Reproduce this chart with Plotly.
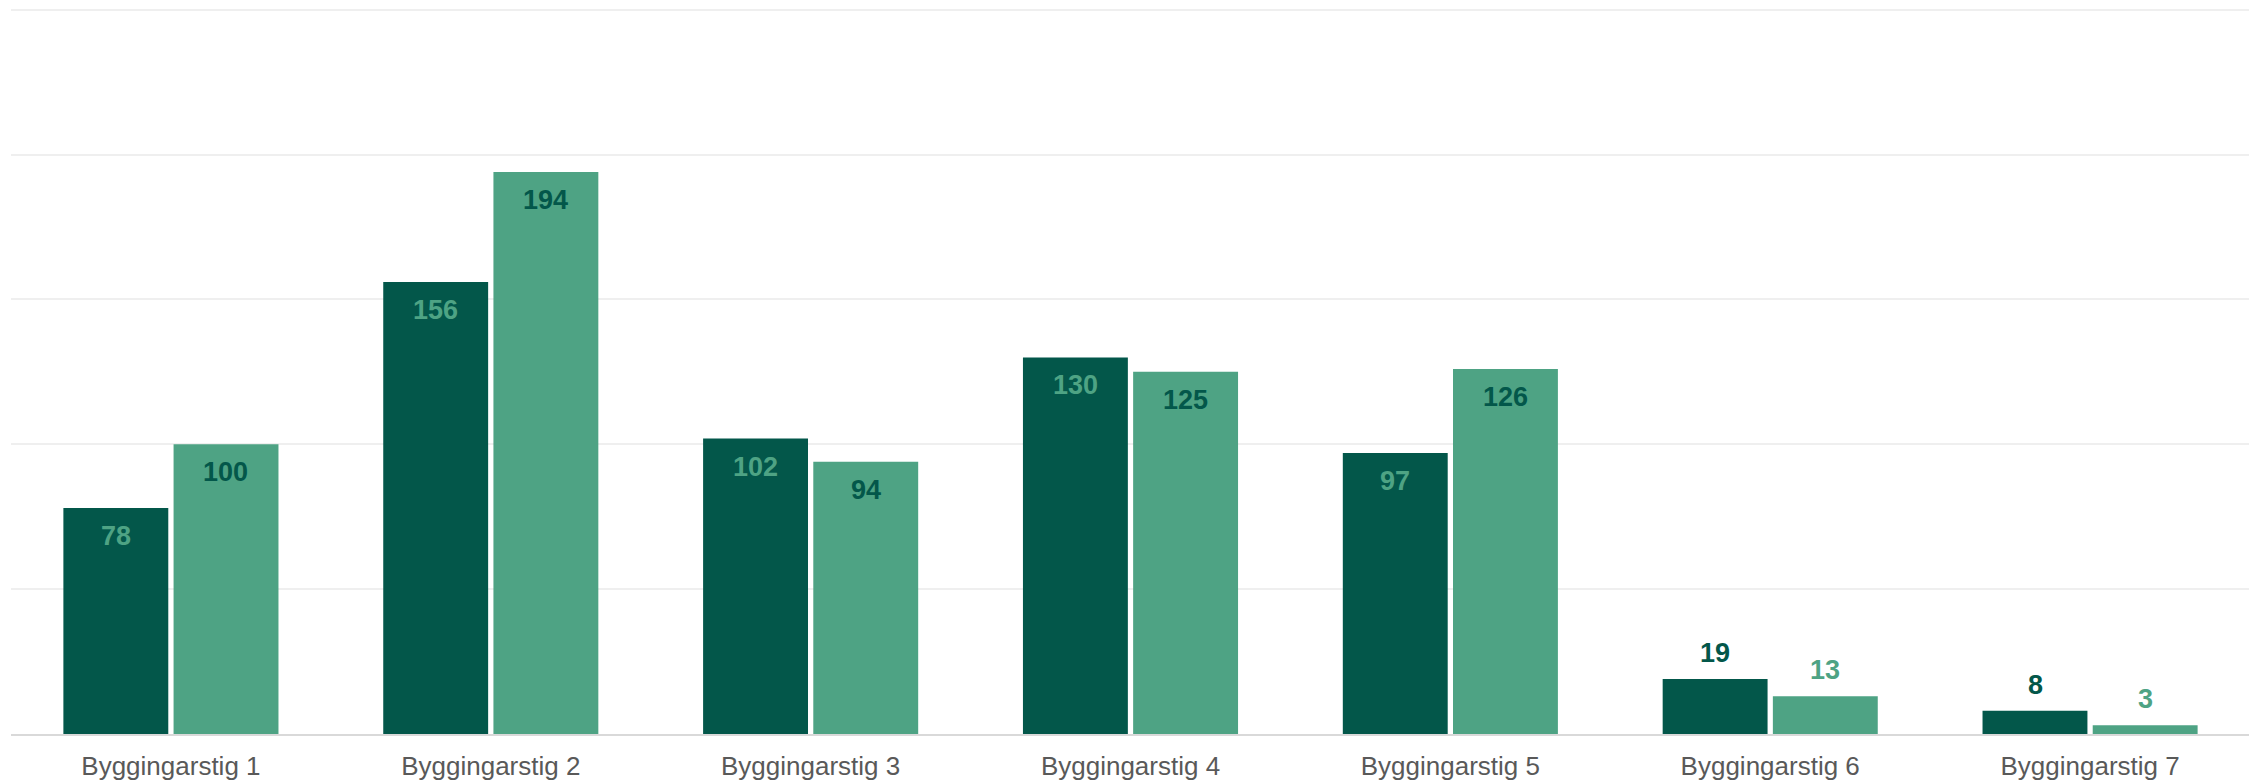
import plotly.graph_objects as go

categories = ["Byggingarstig 1", "Byggingarstig 2", "Byggingarstig 3", "Byggingarstig 4",
              "Byggingarstig 5", "Byggingarstig 6", "Byggingarstig 7"]
series_a = [78, 156, 102, 130, 97, 19, 8]
series_b = [100, 194, 94, 125, 126, 13, 3]

DARK = "#03574A"
LIGHT = "#4EA384"
FONT = "Liberation Sans, Arial, sans-serif"
LABEL_SIZE = 27
INSIDE_MIN = 40  # bars below this get their label above the bar

fig = go.Figure()
fig.add_trace(go.Bar(x=categories, y=series_a, marker=dict(color=DARK, line=dict(width=0)),
                     name="A", hoverinfo="x+y"))
fig.add_trace(go.Bar(x=categories, y=series_b, marker=dict(color=LIGHT, line=dict(width=0)),
                     name="B", hoverinfo="x+y"))

annotations = []
for vals, shift, own, other in [(series_a, -55, DARK, LIGHT), (series_b, 55, LIGHT, DARK)]:
    for cat, v in zip(categories, vals):
        inside = v >= INSIDE_MIN
        annotations.append(dict(
            x=cat, y=v, xref="x", yref="y", text=str(v), showarrow=False,
            xshift=shift,
            yanchor="top" if inside else "bottom",
            yshift=-11 if inside else 9,
            font=dict(family=FONT, size=LABEL_SIZE, color=other if inside else own, weight="bold"),
        ))

# the page body adds an 8px margin, so the figure is sized to fit the window
fig.update_layout(
    width=2249, height=775,
    margin=dict(l=3, r=7, t=0, b=49, autoexpand=False),
    paper_bgcolor="white", plot_bgcolor="white",
    barmode="group", bargap=0.311, bargroupgap=0.048,
    showlegend=False,
    font=dict(family=FONT),
    annotations=annotations,
)
fig.update_xaxes(
    showline=True, linecolor="#D9D9D9", linewidth=2,
    tickfont=dict(family=FONT, size=26, color="#595959"),
    ticks="", ticklabelstandoff=8, automargin=False,
)
fig.update_yaxes(
    range=[0, 250.6], tickvals=[0, 50, 100, 150, 200, 250], showticklabels=False,
    showgrid=True, gridcolor="#EFEFEF", gridwidth=2,
    zeroline=False, automargin=False,
)

fig.write_html("out.html")
